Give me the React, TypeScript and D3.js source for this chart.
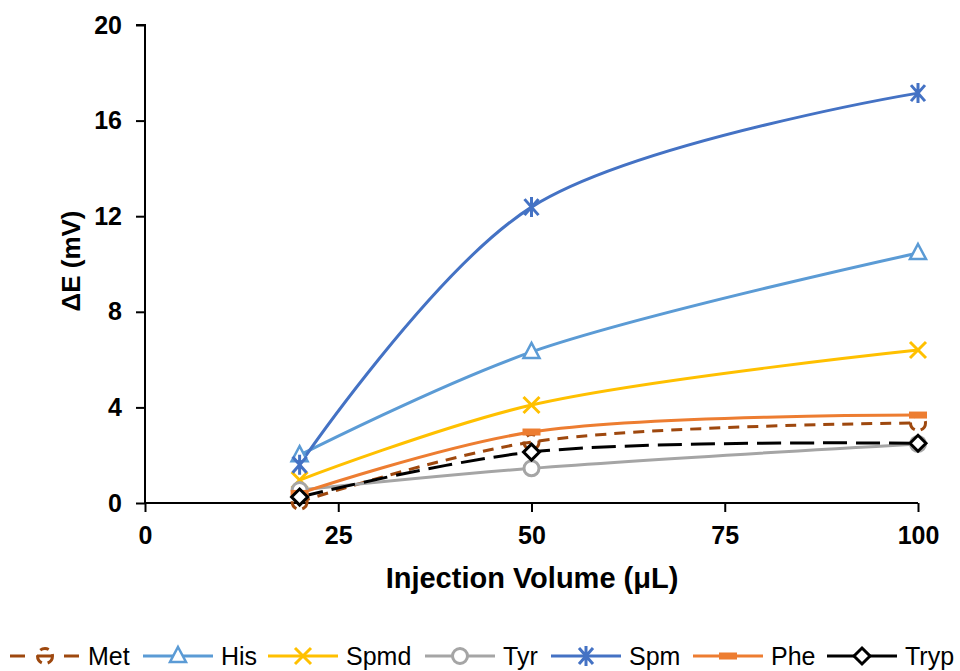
import * as d3 from "d3";
import React, { useEffect, useRef } from "react";

const volumes = [20, 50, 100];
const seriesNames = ["Met", "His", "Spmd", "Tyr", "Spm", "Phe", "Tryp"];
const metValues = [0.05, 2.55, 3.35];
const hisValues = [2.0, 6.32, 10.46];
const spmdValues = [0.96, 4.1, 6.4];
const tyrValues = [0.54, 1.45, 2.47];
const spmValues = [1.6, 12.38, 17.15];
const pheValues = [0.4, 2.97, 3.68];
const trypValues = [0.25, 2.13, 2.5];
const xTicks = [0, 25, 50, 75, 100];
const yTicks = [0, 4, 8, 12, 16, 20];

const styles: Record<string, { color: string; dash: string | null; marker: string }> = {
  Met: { color: "#9E480E", dash: "11,8", marker: "dashcircle" },
  His: { color: "#5B9BD5", dash: null, marker: "triangle" },
  Spmd: { color: "#FFC000", dash: null, marker: "x" },
  Tyr: { color: "#A5A5A5", dash: null, marker: "circle" },
  Spm: { color: "#4472C4", dash: null, marker: "star" },
  Phe: { color: "#ED7D31", dash: null, marker: "dash" },
  Tryp: { color: "#000000", dash: "24,9", marker: "diamond" },
};

const valuesByName: Record<string, number[]> = {
  Met: metValues,
  His: hisValues,
  Spmd: spmdValues,
  Tyr: tyrValues,
  Spm: spmValues,
  Phe: pheValues,
  Tryp: trypValues,
};

function drawMarker(g: any, kind: string, color: string, cx: number, cy: number) {
  const m = g.append("g").attr("transform", `translate(${cx},${cy})`);
  if (kind === "triangle") {
    m.append("path").attr("d", "M0,-9 L8,6 L-8,6 Z").attr("fill", "white").attr("stroke", color).attr("stroke-width", 2.5);
  } else if (kind === "x") {
    m.append("path").attr("d", "M-8,-8 L8,8 M-8,8 L8,-8").attr("stroke", color).attr("stroke-width", 3);
  } else if (kind === "circle") {
    m.append("circle").attr("r", 7.5).attr("fill", "white").attr("stroke", color).attr("stroke-width", 3);
  } else if (kind === "dashcircle") {
    m.append("circle").attr("r", 7.5).attr("fill", "none").attr("stroke", color).attr("stroke-width", 3).attr("stroke-dasharray", "9,6");
  } else if (kind === "star") {
    m.append("path").attr("d", "M-7,-8 L7,8 M-7,8 L7,-8 M0,-10 L0,10").attr("stroke", color).attr("stroke-width", 3);
  } else if (kind === "dash") {
    m.append("rect").attr("x", -9).attr("y", -3.5).attr("width", 18).attr("height", 7).attr("fill", color);
  } else if (kind === "diamond") {
    m.append("path").attr("d", "M0,-8 L8,0 L0,8 L-8,0 Z").attr("fill", "white").attr("stroke", color).attr("stroke-width", 3);
  }
}

const App = () => {
  const ref = useRef<SVGSVGElement | null>(null);
  const width = 960;
  const height = 671;

  useEffect(() => {
    const svg = d3.select(ref.current);
    svg.selectAll("*").remove();

    const x = d3.scaleLinear().domain([0, 100]).range([145, 918]);
    const y = d3.scaleLinear().domain([0, 20]).range([503, 25]);

    // y axis
    const yAxis = svg.append("g")
      .attr("transform", `translate(${x(0)},0)`)
      .call(d3.axisLeft(y).tickValues(yTicks).tickSize(9).tickPadding(14));
    // x axis
    const xAxis = svg.append("g")
      .attr("transform", `translate(0,${y(0)})`)
      .call(d3.axisBottom(x).tickValues(xTicks).tickSize(9).tickPadding(14));

    [yAxis, xAxis].forEach((a) => {
      a.select(".domain").attr("stroke", "#000").attr("stroke-width", 2);
      a.selectAll(".tick line").attr("stroke", "#000").attr("stroke-width", 2);
      a.selectAll(".tick text")
        .attr("fill", "#000")
        .style("font-family", "'Liberation Sans', Arial, sans-serif")
        .style("font-weight", "bold")
        .style("font-size", "25px");
    });
    yAxis.select(".domain").attr("d", `M-9,${y(20)}H0V${y(0)}`);
    xAxis.select(".domain").attr("d", `M${x(0)},0H${x(100)}`);

    // axis titles
    svg.append("text")
      .attr("x", 532)
      .attr("y", 588)
      .attr("text-anchor", "middle")
      .style("font-family", "'Liberation Sans', Arial, sans-serif")
      .style("font-weight", "bold")
      .style("font-size", "29px")
      .text("Injection Volume (μL)");

    svg.append("text")
      .attr("transform", `translate(80,261) rotate(-90)`)
      .attr("text-anchor", "middle")
      .style("font-family", "'Liberation Sans', Arial, sans-serif")
      .style("font-weight", "bold")
      .style("font-size", "26px")
      .text("ΔE (mV)");

    const line = d3.line<number>()
      .x((_d, i) => x(volumes[i]))
      .y((d) => y(d))
      .curve(d3.curveCatmullRom.alpha(0.5));

    const plot = svg.append("g");
    seriesNames.forEach((name) => {
      const s = styles[name];
      const vals = valuesByName[name];
      plot.append("path")
        .attr("d", line(vals))
        .attr("fill", "none")
        .attr("stroke", s.color)
        .attr("stroke-width", 3)
        .attr("stroke-dasharray", s.dash);
    });
    seriesNames.forEach((name) => {
      const s = styles[name];
      valuesByName[name].forEach((v, i) => drawMarker(plot, s.marker, s.color, x(volumes[i]), y(v)));
    });

    // legend
    const legendX = [10, 143, 268, 425, 551, 693, 827];
    const ly = 656;
    seriesNames.forEach((name, i) => {
      const s = styles[name];
      const lg = svg.append("g");
      lg.append("line")
        .attr("x1", legendX[i])
        .attr("x2", legendX[i] + 70)
        .attr("y1", ly)
        .attr("y2", ly)
        .attr("stroke", s.color)
        .attr("stroke-width", 3)
        .attr("stroke-dasharray", name === "Met" ? "15,12" : null);
      drawMarker(lg, s.marker, s.color, legendX[i] + 35, ly);
      lg.append("text")
        .attr("x", legendX[i] + 78)
        .attr("y", ly)
        .attr("dy", "0.36em")
        .style("font-family", "'Liberation Sans', Arial, sans-serif")
        .style("font-size", "25px")
        .text(name);
    });
  }, []);

  return <svg ref={ref} width={width} height={height} style={{ position: "absolute", left: 0, top: 0, background: "white" }} />;
};

export default App;
